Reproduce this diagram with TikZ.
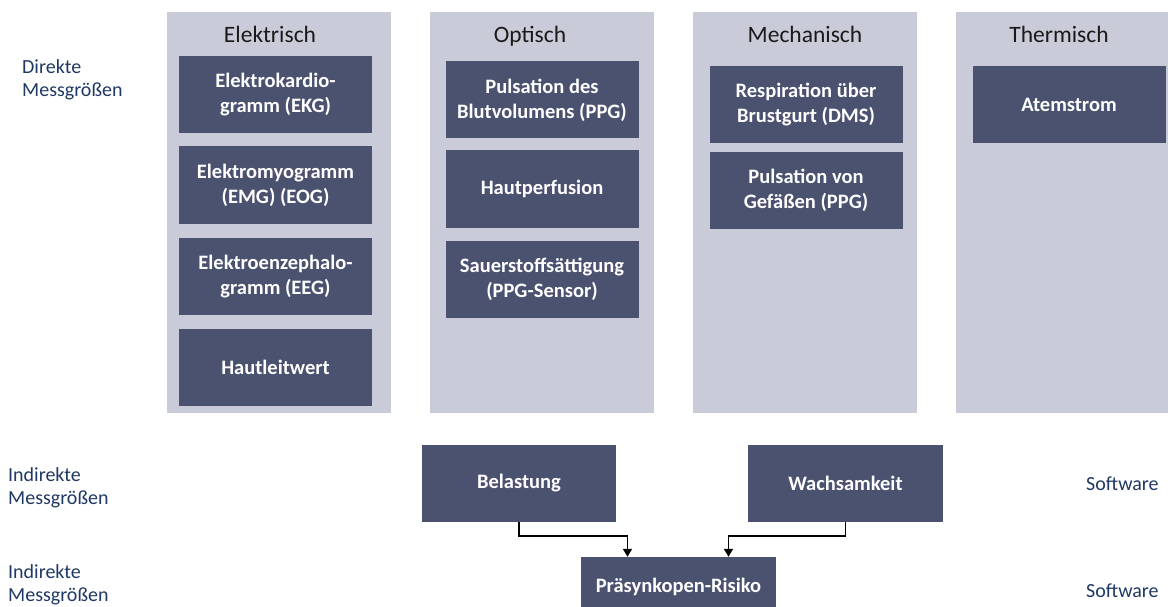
\documentclass[tikz,border=0pt]{standalone}
\usepackage{fontspec}
\setmainfont{Carlito}
\usepackage{tikz}
\usetikzlibrary{arrows.meta,positioning,calc}

\definecolor{spaltgrau}{HTML}{C9CCD8}
\definecolor{kastenblau}{HTML}{4B5270}
\definecolor{textblau}{HTML}{1F3864}
\definecolor{titelgrau}{HTML}{1A1A1A}

\begin{document}
\begin{tikzpicture}[x=1pt, y=-1pt,
  spalte/.style={fill=spaltgrau, minimum width=224pt, minimum height=401pt, inner sep=0pt},
  messbox/.style={fill=kastenblau, text=white, minimum width=193pt, minimum height=77pt,
    inner sep=0pt, align=center, font=\fontsize{20.5}{25}\selectfont\bfseries},
  titel/.style={anchor=base, text=titelgrau, inner sep=0pt, font=\fontsize{23.5}{28}\selectfont},
  seite/.style={anchor=north west, text=textblau, inner sep=0pt, align=left,
    font=\fontsize{20}{23}\selectfont},
  pfeil/.style={-{Triangle[width=9pt,length=8pt]}, line width=1.6pt, black}]
  \clip (0,0) rectangle (1168,607);

  % Spalten
  \node[spalte] (elek) at (279,212.5) {};
  \node[spalte] (opt) at (541.5,212.5) {};
  \node[spalte] (mech) at (805,212.5) {};
  \node[spalte] (therm) at (1068,212.5) {};

  \node[titel] (elektitel) at (270,43) {Elektrisch};
  \node[titel] (opttitel) at (530,43) {Optisch};
  \node[titel] (mechtitel) at (805,43) {Mechanisch};
  \node[titel] (thermtitel) at (1059,43) {Thermisch};

  % Direkte Messgroessen
  \node[messbox] (ekg) at (275.5,94.5) {Elektrokardio-\\gramm (EKG)};
  \node[messbox] (emg) at (275.5,185) {Elektromyogramm\\(EMG) (EOG)};
  \node[messbox] (eeg) at (275.5,276.5) {Elektroenzephalo-\\gramm (EEG)};
  \node[messbox] (haut) at (275.5,367) {Hautleitwert};

  \node[messbox] (ppg) at (542,100) {Pulsation des\\Blutvolumens (PPG)};
  \node[messbox] (perf) at (542,189) {Hautperfusion};
  \node[messbox] (spo) at (542,279) {Sauerstoffsättigung\\(PPG-Sensor)};

  \node[messbox] (resp) at (806,104.5) {Respiration über\\Brustgurt (DMS)};
  \node[messbox] (gef) at (806,190.5) {Pulsation von\\Gefäßen (PPG)};

  \node[messbox] (atem) at (1069,104.5) {Atemstrom};

  % Indirekte Messgroessen
  \node[messbox, minimum width=194pt] (bel) at (519,483.5) {Belastung};
  \node[messbox, minimum width=195pt] (wach) at (845.5,483.5) {Wachsamkeit};
  \node[messbox, minimum width=195pt, minimum height=60pt] (risiko) at (678.5,587) {Präsynkopen-Risiko};

  \draw[pfeil] (bel.south) -- ++(0,14) -| ([xshift=-51pt]risiko.north);
  \draw[pfeil] (wach.south) -- ++(0,14) -| ([xshift=50pt]risiko.north);

  % Beschriftung links und rechts
  \node[seite] (direkt) at (22,59) {Direkte\\Messgrößen};
  \node[seite] (indirekt1) at (8,467) {Indirekte\\Messgrößen};
  \node[seite] (indirekt2) at (8,564) {Indirekte\\Messgrößen};
  \node[seite, anchor=base west] (soft1) at (1086,490) {Software};
  \node[seite, anchor=base west] (soft2) at (1086,597) {Software};
\end{tikzpicture}
\end{document}
